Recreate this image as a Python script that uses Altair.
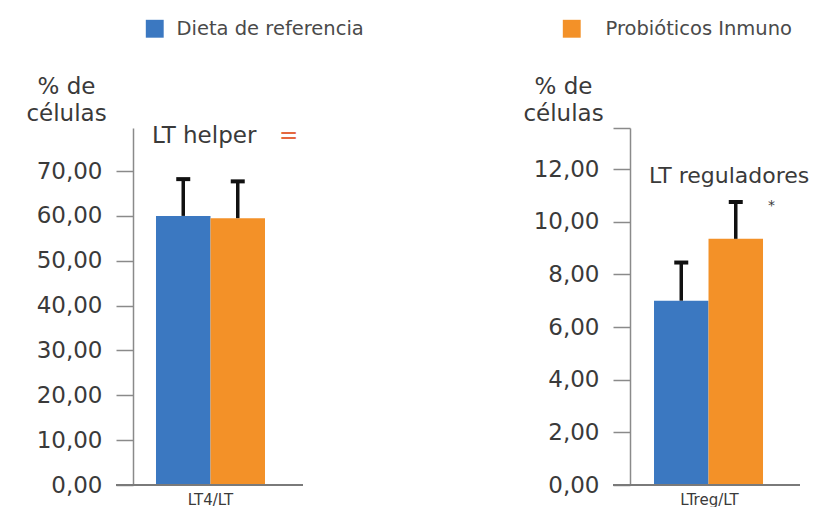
import altair as alt
import pandas as pd

# ---------------- data ----------------
series = ["Dieta de referencia", "Probióticos Inmuno"]
colors = ["#3b78c1", "#f39128"]

cat_left = "LT4/LT"
vals_left = [60.0, 59.5]
errs_left = [8.2, 8.2]
ticks_left = [0, 10, 20, 30, 40, 50, 60, 70]
ymax_left = 79.6

cat_right = "LTreg/LT"
vals_right = [7.0, 9.35]
errs_right = [1.45, 1.4]
ticks_right = [0, 2, 4, 6, 8, 10, 12]
ymax_right = 13.56

ann_left_text = ["LT helper", "="]
ann_left_y = [76.2, 76.2]
ann_right_text = ["LT reguladores", "*"]
ann_right_y = [11.47, 10.43]

FONT = "DejaVu Sans"
TXT = "#3a3a3a"
AX = "#8a8a8a"


def panel(cat, vals, errs, ticks, ymax, width, pad_outer, align,
          legend_idx, legend_x, label_offset, ann_text, ann_y, ann_x, ann_col,
          ann_size, extra_top_tick):
    df = pd.DataFrame({
        "cat": [cat] * len(series),
        "series": series,
        "value": vals,
        "top": [v + e for v, e in zip(vals, errs)],
    })
    tick_values = list(ticks) + ([ymax] if extra_top_tick else [])
    lab = "replace(format(datum.value, '.2f'), '.', ',')"
    if extra_top_tick:
        lab = "datum.value > %s ? '' : %s" % (ticks[-1] + 0.5, lab)
    yaxis = alt.Axis(
        values=tick_values, title=["% de", "células"], titleAngle=0,
        titleAlign="center", titleBaseline="alphabetic", titleX=-67, titleY=-35,
        titleFont=FONT, titleFontSize=23, titleFontWeight="normal",
        titleColor=TXT, titleLineHeight=27,
        labelExpr=lab, labelFont=FONT, labelFontSize=23, labelColor=TXT,
        labelPadding=14, tickSize=17, tickColor=AX, tickWidth=1.5,
        domainColor=AX, domainWidth=1.5, grid=False,
    )
    yscale = alt.Scale(domain=[0, ymax], nice=False, zero=True)
    xenc = alt.X("cat:N", scale=alt.Scale(paddingInner=0, paddingOuter=pad_outer, align=align),
                 axis=alt.Axis(title=None, labelAngle=0, domain=False, ticks=False,
                               labelPadding=7, labelFont=FONT, labelFontSize=15,
                               labelColor=TXT))
    xoff = alt.XOffset("series:N", scale=alt.Scale(domain=series, paddingInner=0, paddingOuter=0))
    base = alt.Chart(df)
    bars = base.mark_bar(opacity=1).encode(
        x=xenc, xOffset=xoff,
        y=alt.Y("value:Q", scale=yscale, axis=yaxis),
        color=alt.Color("series:N", scale=alt.Scale(domain=series, range=colors),
                        legend=alt.Legend(values=[series[legend_idx]], orient="none",
                                          legendX=legend_x, legendY=-109, title=None,
                                          symbolType="square", symbolSize=320,
                                          symbolStrokeWidth=0, symbolOpacity=1,
                                          labelFont=FONT, labelFontSize=19.5,
                                          labelColor="#4a4a4a", labelOffset=label_offset,
                                          labelLimit=0, padding=0)),
    )
    err = base.mark_rule(color="#111111", strokeWidth=3.5, opacity=1).encode(
        x=xenc, xOffset=xoff,
        y=alt.Y("value:Q", scale=yscale, axis=yaxis), y2="top:Q",
    )
    cap = base.mark_tick(color="#111111", size=14, thickness=4, opacity=1).encode(
        x=xenc, xOffset=xoff,
        y=alt.Y("top:Q", scale=yscale, axis=yaxis),
    )
    baseline = base.mark_rule(color="#7a7a7a", strokeWidth=2).encode(
        x=alt.value(-17), x2=alt.value(170), y=alt.datum(0, scale=yscale, axis=yaxis),
    )
    layers = [bars, err, cap, baseline]
    for t, yv, xv, c, s in zip(ann_text, ann_y, ann_x, ann_col, ann_size):
        adf = pd.DataFrame({"label": [t], "ty": [yv]})
        layers.append(
            alt.Chart(adf).mark_text(align="left", baseline="alphabetic", font=FONT,
                                     fontSize=s, color=c).encode(
                x=alt.value(xv), y=alt.Y("ty:Q", scale=yscale, axis=yaxis), text="label:N")
        )
    return alt.layer(*layers).properties(width=width, height=357)


left = panel(cat_left, vals_left, errs_left, ticks_left, ymax_left,
             width=155, pad_outer=0.211, align=0.5,
             legend_idx=0, legend_x=12, label_offset=12,
             ann_text=ann_left_text, ann_y=ann_left_y, ann_x=[19, 146],
             ann_col=[TXT, "#e4683f"], ann_size=[23, 23],
             extra_top_tick=False)

right = panel(cat_right, vals_right, errs_right, ticks_right, ymax_right,
              width=180, pad_outer=0.3108, align=0.348,
              legend_idx=1, legend_x=-68, label_offset=24,
              ann_text=ann_right_text, ann_y=ann_right_y, ann_x=[19, 138],
              ann_col=[TXT, TXT], ann_size=[22, 14],
              extra_top_tick=True)

chart = alt.hconcat(left, right, spacing=158).resolve_scale(
    color="independent", y="independent", x="independent"
).resolve_legend(color="independent").properties(
    padding={"left": 17, "top": 11, "right": 0, "bottom": 0},
    background="white",
).configure_view(stroke=None)

chart.save("out.html", embed_options={"renderer": "svg", "actions": False})
